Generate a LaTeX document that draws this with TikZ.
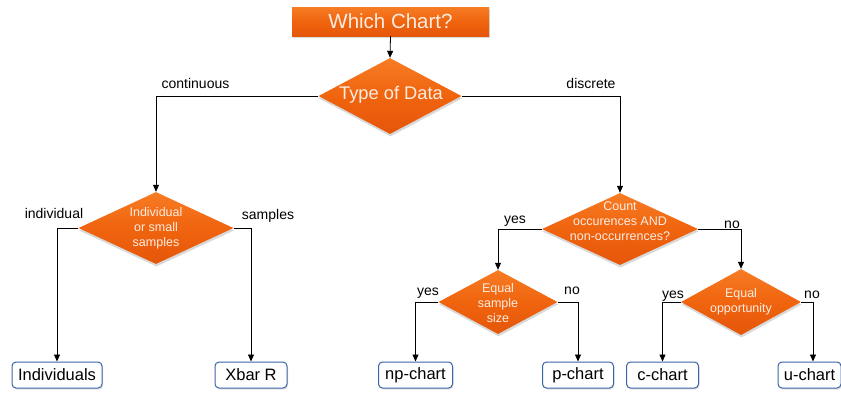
\documentclass[tikz,border=0pt]{standalone}
\usepackage{fontspec}
\setmainfont{Liberation Sans}
\usetikzlibrary{shapes.geometric,shadows,arrows.meta}
\definecolor{orTop}{HTML}{F67C24}
\definecolor{orMid}{HTML}{F0640E}
\definecolor{orBot}{HTML}{E5560A}
\definecolor{boxBlue}{HTML}{3A64A8}
\definecolor{diaText}{HTML}{FDEDE3}
\tikzset{
  orshade/.style={top color=orTop, bottom color=orBot, middle color=orMid},
  dia/.style={diamond, draw=none, orshade, inner sep=0pt,
    drop shadow={opacity=0.3,shadow xshift=0.5pt,shadow yshift=-2.5pt}},
  diatext/.style={text=diaText, align=center, font=\fontsize{12.5}{15}\selectfont, inner sep=0pt},
  titlebox/.style={rectangle, draw=none, orshade,
    minimum width=197pt, minimum height=29pt, inner sep=0pt, text=diaText,
    font=\fontsize{20.5}{24}\selectfont,
    drop shadow={opacity=0.3,shadow xshift=1pt,shadow yshift=-2pt}},
  chartbox/.style={rectangle, rounded corners=4pt, draw=boxBlue, line width=1pt, fill=white,
    minimum height=26pt, inner sep=0pt, font=\fontsize{16.5}{19}\selectfont,
    drop shadow={opacity=0.25,shadow xshift=1pt,shadow yshift=-1.5pt}},
  arr/.style={-{Triangle[length=7pt,width=6pt]}, line width=0.8pt},
  lbl/.style={font=\fontsize{14}{16}\selectfont, anchor=base, inner sep=0pt}
}
\begin{document}
\begin{tikzpicture}[x=1pt,y=-1pt]
\useasboundingbox (0,0) rectangle (841,392);
% title
\node[titlebox] (title) at (390.5,21.5) {Which Chart?};
% diamonds
\node[dia, minimum width=143pt, minimum height=76pt] (tod) at (390,96) {};
\node[diatext, font=\fontsize{18.3}{21}\selectfont] (todt) at (391,95) {Type of Data};
\node[dia, minimum width=155pt, minimum height=72pt] (d2) at (156,228) {};
\node[diatext] (d2t) at (156,228) {Individual\\or small\\samples};
\node[dia, minimum width=156pt, minimum height=72pt] (d3) at (620,229) {};
\node[diatext] (d3t) at (620,221) {Count\\occurences AND\\non-occurrences?};
\node[dia, minimum width=119pt, minimum height=64pt] (d4) at (498,302) {};
\node[diatext] (d4t) at (498,303) {Equal\\sample\\size};
\node[dia, minimum width=120pt, minimum height=66pt] (d5) at (741,302) {};
\node[diatext] (d5t) at (741,302) {Equal\\opportunity};
% result boxes
\node[chartbox, minimum width=90pt] (ind) at (57,375) {Individuals};
\node[chartbox, minimum width=72pt] (xbar) at (251,375) {Xbar R};
\node[chartbox, minimum width=74pt] (np) at (415.5,375) {np-chart};
\node[chartbox, minimum width=71pt] (p) at (578,375) {p-chart};
\node[chartbox, minimum width=72pt] (c) at (662.5,375) {c-chart};
\node[chartbox, minimum width=63pt] (u) at (809.5,375) {u-chart};
% connectors
\draw[arr] (title.south) -- (tod.north);
\draw[arr] (tod.west) -| (d2.north);
\draw[arr] (tod.east) -| (d3.north);
\draw[arr] (d2.west) -| (ind.north);
\draw[arr] (d2.east) -| (xbar.north);
\draw[arr] (d3.west) -| (d4.north);
\draw[arr] (d3.east) -| (d5.north);
\draw[arr] (d4.west) -| (np.north);
\draw[arr] (d4.east) -| (p.north);
\draw[arr] (d5.west) -| (c.north);
\draw[arr] (d5.east) -| ([xshift=3.5pt]u.north);
% labels
\node[lbl] (lcont) at (195.5,88) {continuous};
\node[lbl] (ldisc) at (591,88) {discrete};
\node[lbl] (lind) at (54,218) {individual};
\node[lbl] (lsam) at (268,219) {samples};
\node[lbl] (ly3) at (515,223) {yes};
\node[lbl] (ln3) at (732,228) {no};
\node[lbl] (ly4) at (428,295) {yes};
\node[lbl] (ln4) at (572,294) {no};
\node[lbl] (ly5) at (673,298) {yes};
\node[lbl] (ln5) at (812,298) {no};
\end{tikzpicture}
\end{document}
